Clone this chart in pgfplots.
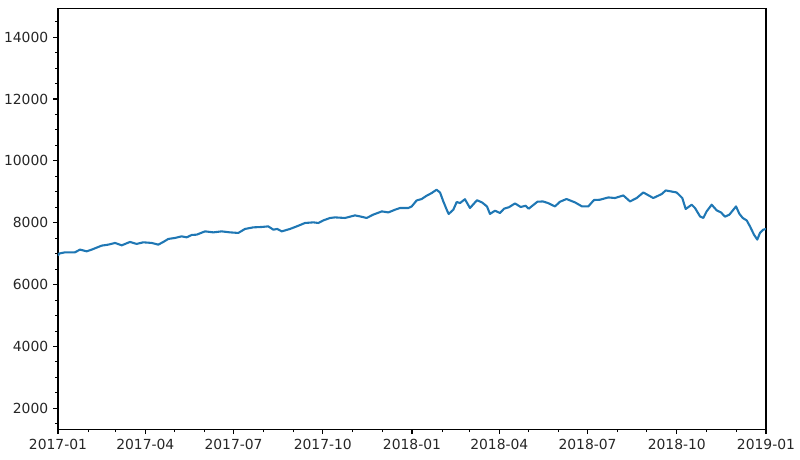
\documentclass[border=0pt]{standalone}
\usepackage{fontspec}
\setmainfont{DejaVu Sans}
\usepackage{pgfplots}
\pgfplotsset{compat=1.18}
\definecolor{tabblue}{HTML}{1F77B4}
\begin{document}
\begin{tikzpicture}
\useasboundingbox (-41.76pt,-22.1pt) rectangle (534.24pt,309.1pt);
\begin{axis}[
  scale only axis,
  width=509.76pt, height=303.1pt,
  xmin=0, xmax=730, ymin=1320, ymax=14930,
  axis line style={line width=0.8pt},
  tick align=outside,
  major tick length=3.5pt, minor tick length=2pt,
  every tick/.style={black, line width=0.8pt},
  every minor tick/.style={black, line width=0.6pt},
  xtick={0,90,181,273,365,455,546,638,730},
  xticklabels={2017-01,2017-04,2017-07,2017-10,2018-01,2018-04,2018-07,2018-10,2019-01},
  minor xtick={31,59,120,151,212,243,304,334,396,424,485,516,577,607,669,699},
  ytick={2000,4000,6000,8000,10000,12000,14000},
  minor ytick={1500,2500,3000,3500,4500,5000,5500,6500,7000,7500,8500,9000,9500,10500,11000,11500,12500,13000,13500,14500},
  scaled y ticks=false,
  yticklabel style={/pgf/number format/fixed, /pgf/number format/1000 sep={}},
  /pgf/number format/assume math mode=true,
  tick label style={font=\fontsize{10pt}{12pt}\selectfont, text=black!85},
  xtick pos=bottom, ytick pos=left,
  clip=true,
]
\addplot[color=tabblue, line width=1.5pt, line join=round] coordinates {
(0,6930)(1,7000)(7.2,7042)(17.5,7042)(22.7,7129)(29.6,7074)(34.7,7129)(45.1,7258)
(51.9,7290)(58.8,7345)(65.7,7268)(74.2,7377)(81.1,7313)(87.9,7365)(96.6,7345)
(103.4,7290)(108.6,7377)(113.7,7474)(120.6,7506)(127.5,7558)(132.7,7526)(137.9,7603)
(143,7613)(151.6,7719)(160.1,7687)(168.8,7719)(177.3,7687)(185.9,7668)(192.8,7797)
(201.4,7849)(210,7861)(216.8,7881)(222,7774)(226.1,7797)(230.7,7719)(239.2,7797)
(246.2,7881)(254.7,7990)(263.3,8010)(268.5,7990)(273.6,8074)(280.5,8152)(285.7,8171)
(296,8152)(306.2,8236)(311.4,8203)(318.3,8152)(324.9,8258)(333.9,8365)(340.6,8332)
(347.5,8419)(352.6,8474)(361.2,8474)(364.7,8526)(369.8,8719)(375,8765)(380.1,8871)
(385.3,8958)(390.3,9065)(393.9,8977)(397.3,8687)(400.8,8419)(402.8,8281)(407.6,8419)
(411.1,8668)(414.5,8635)(419.6,8758)(424.8,8474)(432,8726)(437.2,8655)(442.3,8526)
(445.4,8284)(450.6,8387)(455.7,8313)(459.9,8452)(465,8500)(471.2,8623)(477.1,8507)
(482.2,8548)(485.3,8452)(494.3,8677)(500,8687)(505.2,8635)(512.4,8526)(517.6,8677)
(524.3,8765)(533.1,8655)(540.3,8526)(546.8,8526)(552.6,8732)(558.8,8742)(567.4,8816)
(574.3,8797)(582.9,8881)(589.8,8687)(596.7,8797)(603.5,8977)(613.8,8797)(622.5,8926)
(626.6,9042)(637.9,8977)(643.7,8797)(647.2,8442)(653.4,8581)(656.8,8474)(662,8203)
(665.4,8152)(668.8,8365)(674,8581)(679.2,8397)(683.6,8332)(687.7,8194)(692.2,8258)
(699.1,8526)(702.5,8290)(706,8152)(710.1,8074)(713.5,7881)(717.6,7613)(721,7452)
(723.8,7668)(727.2,7774)(730,7797)
};
\end{axis}
\end{tikzpicture}
\end{document}
